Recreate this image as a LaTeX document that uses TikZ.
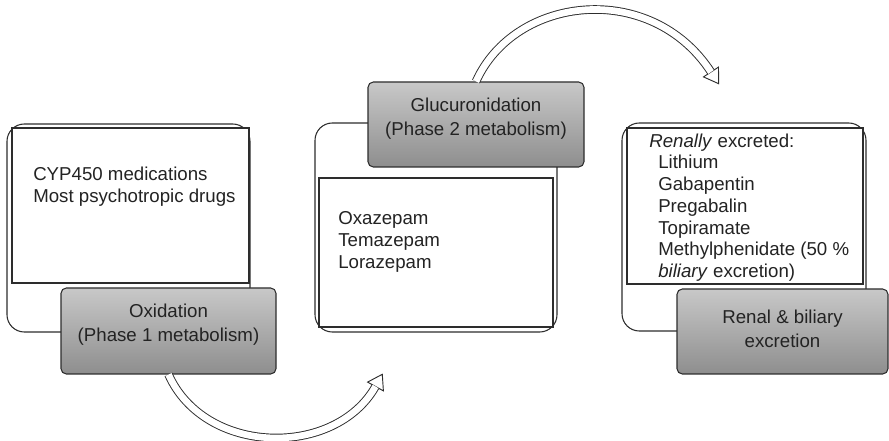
\documentclass[tikz,border=0pt]{standalone}
\usepackage{fontspec}
\setmainfont{Liberation Sans}
\definecolor{boxtop}{RGB}{200,200,200}
\definecolor{boxbottom}{RGB}{142,142,142}
\definecolor{edgegray}{RGB}{45,45,45}
\definecolor{inkgray}{RGB}{35,35,35}

\begin{document}
\begin{tikzpicture}[x=0.75pt,y=-0.75pt,
  panel/.style={draw=edgegray,fill=white,line width=0.8pt,rounded corners=13pt},
  listbox/.style={draw=edgegray,fill=white,line width=0.8pt},
  phase/.style={draw=edgegray,line width=0.8pt,rounded corners=4pt,top color=boxtop,bottom color=boxbottom,inner sep=0pt},
  phasetext/.style={text=inkgray,align=center,inner sep=0pt,font=\fontsize{14}{17.8}\selectfont},
  listtext/.style={text=inkgray,align=left,inner sep=0pt,font=\fontsize{14}{16.3}\selectfont},
  hollow/.style={draw=edgegray,line width=0.7pt,double=white,double distance=5pt},
  hollowhead/.style={draw=edgegray,fill=white,line width=0.7pt,line join=miter}]
\useasboundingbox (0,0) rectangle (889,441);

\draw[panel] (7,124) rectangle (250,332);
\draw[listbox] (12,128) rectangle (249,283);
\node[listtext,anchor=base west] (cyp) at (33,202.7) {CYP450 medications\\Most psychotropic drugs};
\node[phase,minimum width=161.25pt,minimum height=64.5pt] (oxid) at (168.5,331) {};
\node[phasetext] (oxidlabel) at (168.5,325) {Oxidation\\(Phase 1 metabolism)};

\draw[panel] (315,123) rectangle (557,332);
\draw[listbox] (319,178) rectangle (553,327);
\node[listtext,anchor=base west] (benzo) at (338,268.4) {Oxazepam\\Temazepam\\Lorazepam};
\node[phase,minimum width=162pt,minimum height=63.75pt] (gluc) at (476,124.5) {};
\node[phasetext] (gluclabel) at (476,119) {Glucuronidation\\(Phase 2 metabolism)};

\draw[panel] (622,123) rectangle (866,331);
\draw[listbox] (627,128) rectangle (863,284);
\node[listtext,anchor=base west] (renalhead) at (649,148) {\textit{Renally} excreted:};
\node[listtext,anchor=base west] (renallist) at (658,277.5) {Lithium\\Gabapentin\\Pregabalin\\Topiramate\\Methylphenidate (50 \%\\\textit{biliary} excretion)};
\node[phase,minimum width=158.25pt,minimum height=63.75pt] (renal) at (782.5,331.5) {};
\node[phasetext] (renallabel) at (782.5,329) {Renal \& biliary\\excretion};

\coordinate (oxidEnd) at (375.5,386.5);
\draw[hollowhead] (367.6,382.1) -- (382.3,374.3) -- (383.4,390.9) -- cycle;
\draw[hollow] (oxid.south) .. controls (205,456) and (335,458) .. (oxidEnd);

\coordinate (glucEnd) at (711,72);
\draw[hollowhead] (703.5,76.9) -- (718.6,83.7) -- (718.5,67.1) -- cycle;
\draw[hollow] (gluc.north) .. controls (515,-5) and (651,-20) .. (glucEnd);
\end{tikzpicture}
\end{document}
